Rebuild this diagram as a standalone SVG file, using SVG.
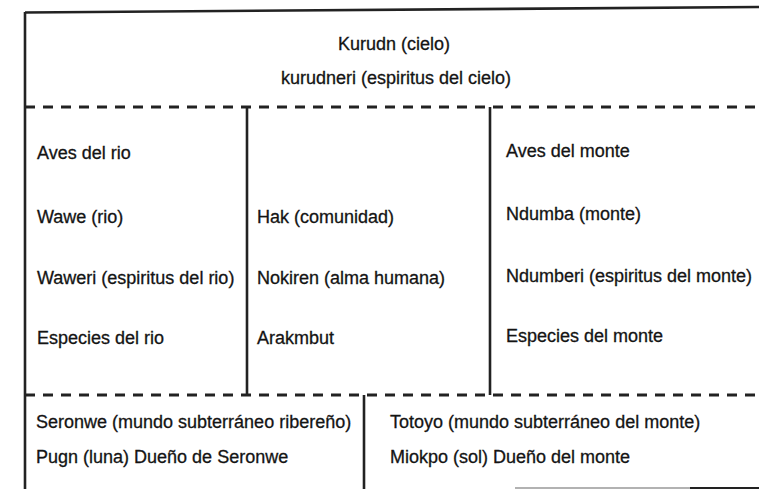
<svg xmlns="http://www.w3.org/2000/svg" width="759" height="489" viewBox="0 0 759 489">
<style>
.t{font-family:"Liberation Sans",Arial,sans-serif;font-size:18px;fill:#141414;stroke:#141414;stroke-width:0.3}
.c{text-anchor:middle}
.solid{stroke:#222;stroke-width:2.6;fill:none}
.dash{stroke:#222;stroke-width:3;stroke-dasharray:10 8;fill:none}
</style>
<rect width="759" height="489" fill="#fff"/>
<g id="connectors">
<line class="solid" x1="25" y1="12.5" x2="759" y2="7"/>
<line class="solid" x1="25" y1="12" x2="25" y2="489"/>
<line class="dash" x1="25" y1="107" x2="759" y2="107"/>
<line class="solid" x1="247" y1="107" x2="247" y2="395"/>
<line class="solid" x1="490" y1="107" x2="490" y2="395"/>
<line class="dash" x1="25" y1="395" x2="759" y2="395"/>
<line class="solid" x1="364" y1="395" x2="364" y2="489"/>
<line x1="515" y1="488" x2="690" y2="488" stroke="#999" stroke-width="1.5"/>
<line x1="690" y1="488" x2="759" y2="488" stroke="#222" stroke-width="2"/>
</g>
<g id="cielo">
<text class="t c" x="394" y="50">Kurudn (cielo)</text>
<text class="t c" x="396" y="84">kurudneri (espiritus del cielo)</text>
</g>
<g id="rio">
<text class="t" x="37" y="159">Aves del rio</text>
<text class="t" x="37" y="223">Wawe (rio)</text>
<text class="t" x="37" y="284">Waweri (espiritus del rio)</text>
<text class="t" x="37" y="344">Especies del rio</text>
</g>
<g id="comunidad">
<text class="t" x="257" y="223">Hak (comunidad)</text>
<text class="t" x="257" y="284">Nokiren (alma humana)</text>
<text class="t" x="257" y="344">Arakmbut</text>
</g>
<g id="monte">
<text class="t" x="506" y="157">Aves del monte</text>
<text class="t" x="506" y="220">Ndumba (monte)</text>
<text class="t" x="506" y="282">Ndumberi (espiritus del monte)</text>
<text class="t" x="506" y="342">Especies del monte</text>
</g>
<g id="seronwe">
<text class="t" x="36" y="428">Seronwe (mundo subterráneo ribereño)</text>
<text class="t" x="36" y="463">Pugn (luna) Dueño de Seronwe</text>
</g>
<g id="totoyo">
<text class="t" x="390" y="428">Totoyo (mundo subterráneo del monte)</text>
<text class="t" x="390" y="463">Miokpo (sol) Dueño del monte</text>
</g>
</svg>
